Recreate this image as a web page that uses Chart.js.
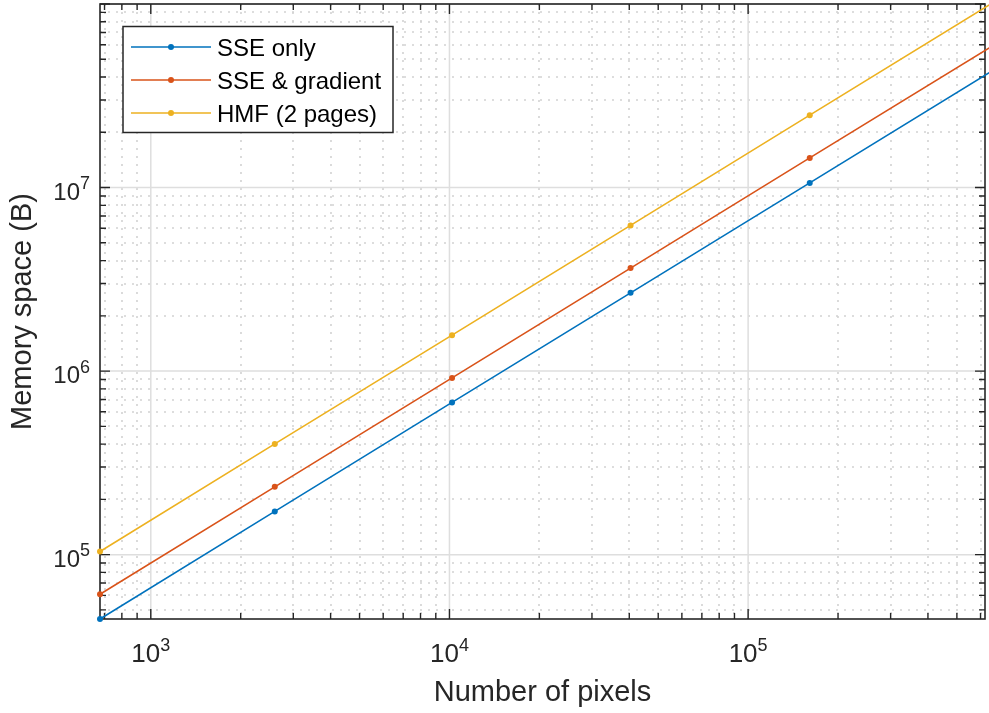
<!DOCTYPE html>
<html>
<head>
<meta charset="utf-8">
<script src="https://cdn.jsdelivr.net/npm/chart.js@4.4.1/dist/chart.umd.min.js"></script>
<style>
  html, body { margin: 0; padding: 0; background: #fff; overflow: hidden; }
  canvas { display: block; }
</style>
</head>
<body>
<canvas id="memChart" width="989" height="713"></canvas>
<script>
// number of pixels per test image, and memory used (bytes)
const pixelCounts = [676, 2601, 10201, 40401, 160801, 641601];
const sseOnly = [44600, 172000, 675000, 2670000, 10600000, 42300000];
const sseGradient = [60800, 234000, 918000, 3640000, 14500000, 57700000];
const hmfTwoPages = [104000, 401000, 1570000, 6220000, 24800000, 98800000];

const seriesLabels = ['SSE only', 'SSE & gradient', 'HMF (2 pages)'];
const seriesColors = ['#0072BD', '#D95319', '#EDB120'];

// decade tick labels: 10^n
const xTickExponents = [3, 4, 5];
const yTickExponents = [5, 6, 7];

const xRange = [676, 621000];
const yRange = [44600, 1e8];

const FONT = "'Liberation Sans', Arial, Helvetica, sans-serif";
const AXIS_COLOR = '#262626';

function toPoints(ys) {
    return pixelCounts.map((x, i) => ({ x: x, y: ys[i] }));
}

function logGridValues(min, max) {
    const vals = [];
    const e0 = Math.floor(Math.log10(min));
    const e1 = Math.ceil(Math.log10(max));
    for (let e = e0; e <= e1; e++) {
        for (let m = 1; m <= 9; m++) {
            const v = m * Math.pow(10, e);
            if (v >= min && v <= max) vals.push({ v: v, major: m === 1 });
        }
    }
    return vals;
}

// grid, box and inward ticks, matlab style
const axesPlugin = {
    id: 'axesBox',
    beforeDatasetsDraw(chart) {
        const { ctx, chartArea: a, scales: { x, y } } = chart;
        const xs = logGridValues(xRange[0], xRange[1]);
        const ys = logGridValues(yRange[0], yRange[1]);
        ctx.save();

        // minor grid (dotted)
        ctx.strokeStyle = '#d2d2d2';
        ctx.lineWidth = 1.6;
        ctx.setLineDash([2, 6]);
        ctx.beginPath();
        xs.filter(t => !t.major).forEach(t => {
            const px = Math.round(x.getPixelForValue(t.v));
            ctx.moveTo(px, a.top);
            ctx.lineTo(px, a.bottom);
        });
        ys.filter(t => !t.major).forEach(t => {
            const py = Math.round(y.getPixelForValue(t.v));
            ctx.moveTo(a.left, py);
            ctx.lineTo(a.right, py);
        });
        ctx.stroke();

        // major grid
        ctx.setLineDash([]);
        ctx.strokeStyle = '#dedede';
        ctx.lineWidth = 1.5;
        ctx.beginPath();
        xs.filter(t => t.major).forEach(t => {
            const px = x.getPixelForValue(t.v);
            ctx.moveTo(px, a.top);
            ctx.lineTo(px, a.bottom);
        });
        ys.filter(t => t.major).forEach(t => {
            const py = y.getPixelForValue(t.v);
            ctx.moveTo(a.left, py);
            ctx.lineTo(a.right, py);
        });
        ctx.stroke();

        // box
        ctx.strokeStyle = AXIS_COLOR;
        ctx.lineWidth = 1.6;
        ctx.strokeRect(a.left, a.top, a.right - a.left, a.bottom - a.top);

        // ticks pointing inward
        ctx.lineWidth = 1.4;
        ctx.beginPath();
        xs.forEach(t => {
            const px = x.getPixelForValue(t.v);
            const len = t.major ? 10 : 6;
            ctx.moveTo(px, a.bottom);
            ctx.lineTo(px, a.bottom - len);
            ctx.moveTo(px, a.top);
            ctx.lineTo(px, a.top + len);
        });
        ys.forEach(t => {
            const py = y.getPixelForValue(t.v);
            const len = t.major ? 10 : 6;
            ctx.moveTo(a.left, py);
            ctx.lineTo(a.left + len, py);
            ctx.moveTo(a.right, py);
            ctx.lineTo(a.right - len, py);
        });
        ctx.stroke();
        ctx.restore();
    },
    afterDraw(chart) {
        const { ctx, chartArea: a, scales: { x, y } } = chart;
        ctx.save();
        ctx.fillStyle = AXIS_COLOR;
        ctx.textBaseline = 'alphabetic';

        // x tick labels
        xTickExponents.forEach(n => {
            const px = x.getPixelForValue(Math.pow(10, n));
            ctx.font = '26px ' + FONT;
            const wb = ctx.measureText('10').width;
            ctx.font = '18px ' + FONT;
            const we = ctx.measureText(String(n)).width;
            const left = px - (wb + we) / 2;
            ctx.textAlign = 'left';
            ctx.font = '26px ' + FONT;
            ctx.fillText('10', left, a.bottom + 43);
            ctx.font = '18px ' + FONT;
            ctx.fillText(String(n), left + wb, a.bottom + 32);
        });

        // y tick labels
        yTickExponents.forEach(n => {
            const py = y.getPixelForValue(Math.pow(10, n));
            ctx.font = '18px ' + FONT;
            const we = ctx.measureText(String(n)).width;
            const right = a.left - 10;
            ctx.textAlign = 'right';
            ctx.fillText(String(n), right, py + 1.5);
            ctx.font = '24px ' + FONT;
            ctx.fillText('10', right - we, py + 12);
        });

        // legend
        const bx = a.left + 23, by = a.top + 22.5, bw = 270, bh = 106;
        ctx.fillStyle = '#ffffff';
        ctx.fillRect(bx, by, bw, bh);
        ctx.strokeStyle = AXIS_COLOR;
        ctx.lineWidth = 1.5;
        ctx.strokeRect(bx, by, bw, bh);
        chart.data.datasets.forEach((ds, i) => {
            const ry = by + 20.5 + i * 33;
            ctx.strokeStyle = ds.borderColor;
            ctx.lineWidth = 1.6;
            ctx.beginPath();
            ctx.moveTo(bx + 8, ry);
            ctx.lineTo(bx + 88, ry);
            ctx.stroke();
            ctx.fillStyle = ds.borderColor;
            ctx.beginPath();
            ctx.arc(bx + 48, ry, 3, 0, Math.PI * 2);
            ctx.fill();
            ctx.fillStyle = '#000000';
            ctx.textAlign = 'left';
            ctx.font = '24px ' + FONT;
            ctx.fillText(ds.label, bx + 94, ry + 9);
        });
        ctx.restore();
    }
};

document.addEventListener('DOMContentLoaded', function() {
    const ctx = document.getElementById('memChart').getContext('2d');
    const allSeries = [sseOnly, sseGradient, hmfTwoPages];

    new Chart(ctx, {
        type: 'line',
        data: {
            datasets: allSeries.map((s, i) => ({
                label: seriesLabels[i],
                data: toPoints(s),
                borderColor: seriesColors[i],
                backgroundColor: seriesColors[i],
                pointBackgroundColor: seriesColors[i],
                pointBorderWidth: 0,
                pointRadius: 3,
                borderWidth: 1.6,
                tension: 0,
                fill: false,
                clip: false
            }))
        },
        options: {
            responsive: false,
            animation: false,
            devicePixelRatio: 1,
            layout: { padding: { top: 0.5, right: 0.5, left: 0, bottom: 0 } },
            plugins: {
                legend: { display: false },
                tooltip: { enabled: false }
            },
            scales: {
                x: {
                    type: 'logarithmic',
                    min: xRange[0],
                    max: xRange[1],
                    grid: { display: false },
                    border: { display: false },
                    ticks: { display: false },
                    title: {
                        display: true,
                        text: 'Number of pixels',
                        color: AXIS_COLOR,
                        font: { family: FONT, size: 29 },
                        padding: { top: 0, bottom: 3 }
                    },
                    afterFit: function(scale) { scale.height = 94; }
                },
                y: {
                    type: 'logarithmic',
                    min: yRange[0],
                    max: yRange[1],
                    grid: { display: false },
                    border: { display: false },
                    ticks: { display: false },
                    title: {
                        display: true,
                        text: 'Memory space (B)',
                        color: AXIS_COLOR,
                        font: { family: FONT, size: 29 },
                        padding: { top: 5.5, bottom: 0 }
                    },
                    afterFit: function(scale) { scale.width = 100; }
                }
            }
        },
        plugins: [axesPlugin]
    });
});
</script>
</body>
</html>
